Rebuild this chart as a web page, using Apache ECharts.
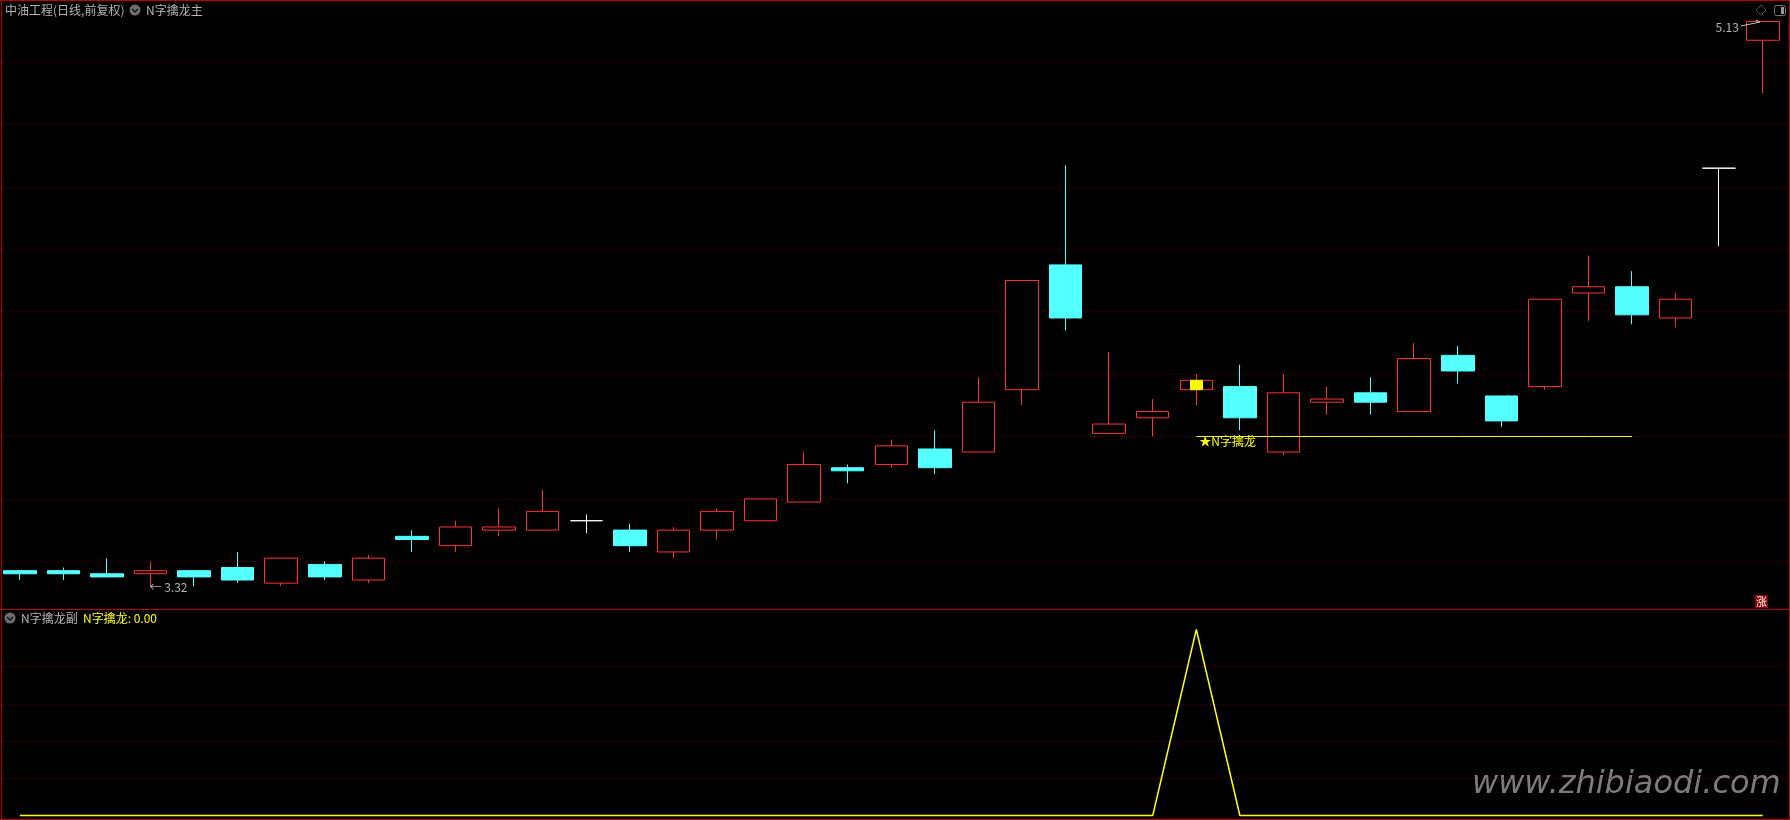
<!DOCTYPE html>
<html><head><meta charset="utf-8">
<style>html,body{margin:0;padding:0;background:#000}#c{width:1790px;height:820px}</style>
<script src="https://cdn.jsdelivr.net/npm/echarts@6/dist/echarts.min.js"></script>
</head><body><div id="c"></div>
<script>
const categories = Array.from({length:41},(_,i)=>String(i+1));
const opens  = [3.37,3.37,3.36,3.36,3.37,3.38,3.33,3.39,3.34,3.48,3.45,3.50,3.50,3.53,3.50,3.43,3.50,3.53,3.59,3.70,3.71,3.76,3.75,3.95,4.35,3.81,3.86,3.95,3.96,3.75,3.91,3.94,3.88,4.06,3.93,3.96,4.26,4.28,4.18,4.66,5.07];
const closes = [3.36,3.36,3.35,3.37,3.35,3.34,3.41,3.35,3.41,3.47,3.51,3.51,3.56,3.53,3.45,3.50,3.56,3.60,3.71,3.69,3.77,3.70,3.91,4.30,4.18,3.84,3.88,3.98,3.86,3.94,3.92,3.91,4.05,4.01,3.85,4.24,4.28,4.19,4.24,4.66,5.13];
const lows   = [3.34,3.34,3.35,3.32,3.32,3.33,3.32,3.34,3.33,3.43,3.43,3.48,3.50,3.49,3.43,3.41,3.47,3.53,3.59,3.65,3.70,3.68,3.75,3.90,4.14,3.81,3.80,3.90,3.82,3.74,3.87,3.87,3.88,3.97,3.83,3.95,4.17,4.16,4.15,4.41,4.90];
const highs  = [3.37,3.38,3.41,3.40,3.37,3.43,3.41,3.40,3.42,3.50,3.53,3.57,3.63,3.55,3.52,3.51,3.57,3.60,3.75,3.71,3.79,3.82,3.99,4.30,4.67,4.07,3.92,4.00,4.03,4.00,3.96,3.99,4.10,4.09,3.93,4.24,4.38,4.33,4.26,4.66,5.13];
const signal = [0,0,0,0,0,0,0,0,0,0,0,0,0,0,0,0,0,0,0,0,0,0,0,0,0,0,0,1,0,0,0,0,0,0,0,0,0,0,0,0,0];
const signalIndex = 27;
const supportPrice = 3.8;
const supportEnd = 37;
const lowIndex = 3, lowPrice = 3.32, highIndex = 40, highPrice = 5.13;

const RED='#ff3232', CYAN='#54ffff', YEL='#ffff00', GRAY='#b4b4b4', FRAME='#b80000', DOT='#8c0000';
const FONT='"Noto Sans CJK SC","Liberation Sans",sans-serif';

const candles = categories.map((_,i)=>[opens[i],closes[i],lows[i],highs[i]]);
const highlight = categories.map((_,i)=> i===signalIndex ? [opens[i],closes[i],opens[i],closes[i]] : '-');
const support = categories.map((_,i)=> i>=signalIndex && i<=supportEnd ? supportPrice : null);

function icon(cx,cy){
  return [
    {type:'circle',shape:{cx,cy,r:5.5},style:{fill:'#6e6e6e'},silent:true},
    {type:'polyline',shape:{points:[[cx-3,cy-1],[cx,cy+2],[cx+3,cy-1]]},style:{stroke:'#111',lineWidth:1.5,fill:null},silent:true}
  ];
}
function txt(x,y,t,fill,size){
  return {type:'text',x,y,style:{text:t,fill:fill||GRAY,font:(size||12)+'px '+FONT,textVerticalAlign:'middle'},silent:true};
}

const chart = echarts.init(document.getElementById('c'),null,{renderer:'canvas'});
const gridW = 42*43.575, gridL = -2;
chart.setOption({
  animation:false,
  backgroundColor:'#000',
  grid:[
    {left:gridL,top:-0.3,width:gridW,height:624,outerBoundsMode:'none'},
    {left:gridL,top:629.5,width:gridW,height:186,outerBoundsMode:'none'}
  ],
  xAxis:[0,1].map(g=>({type:'category',gridIndex:g,data:categories,max:41,boundaryGap:true,
    axisLine:{show:false},axisTick:{show:false},axisLabel:{show:false},splitLine:{show:false}})),
  yAxis:[
    {type:'value',gridIndex:0,min:3.2,max:5.2,interval:0.2,scale:true,
     axisLine:{show:false},axisTick:{show:false},axisLabel:{show:false},
     splitLine:{show:true,showMinLine:false,showMaxLine:false,lineStyle:{color:DOT,width:1,type:[1,3]}}},
    {type:'value',gridIndex:1,min:0,max:1,interval:0.2,
     axisLine:{show:false},axisTick:{show:false},axisLabel:{show:false},
     splitLine:{show:true,showMinLine:false,showMaxLine:false,lineStyle:{color:DOT,width:1,type:[1,3]}}}
  ],
  series:[
    {type:'candlestick',xAxisIndex:0,yAxisIndex:0,data:candles,barWidth:33,silent:true,clip:false,
     itemStyle:{color:'#000',color0:CYAN,borderColor:RED,borderColor0:CYAN,borderColorDoji:'#ffffff',borderWidth:1},
     markPoint:{silent:true,symbol:'circle',symbolSize:0,animation:false,
       data:[
        {coord:[lowIndex,lowPrice],label:{show:true,position:'right',distance:0,offset:[-1,1],formatter:'← '+lowPrice.toFixed(2),color:GRAY,fontSize:12,fontFamily:FONT}},
        {coord:[highIndex,highPrice],label:{show:true,position:'left',distance:0,offset:[-24,6],formatter:highPrice.toFixed(2),color:GRAY,fontSize:12,fontFamily:FONT}}
       ]}},
    {type:'candlestick',xAxisIndex:0,yAxisIndex:0,data:highlight,barWidth:13,silent:true,z:3,
     itemStyle:{color:YEL,color0:YEL,borderColor:YEL,borderColor0:YEL,borderWidth:1}},
    {type:'line',xAxisIndex:0,yAxisIndex:0,data:support,showSymbol:false,silent:true,z:4,
     lineStyle:{color:YEL,width:1},
     markPoint:{silent:true,symbol:'circle',symbolSize:0,
       data:[{coord:[signalIndex,supportPrice],label:{show:true,position:'right',distance:0,offset:[3,5],formatter:'★N字擒龙',color:YEL,fontSize:12,fontFamily:FONT}}]}},
    {type:'line',xAxisIndex:1,yAxisIndex:1,data:signal,showSymbol:false,silent:true,clip:false,z:4,
     lineStyle:{color:YEL,width:1.5}}
  ],
  graphic:{elements:[
    {type:'rect',shape:{x:0,y:0,width:1790,height:1},style:{fill:FRAME},silent:true,z:50},
    {type:'rect',shape:{x:1,y:0,width:1,height:820},style:{fill:FRAME},silent:true,z:50},
    {type:'rect',shape:{x:1789,y:0,width:1,height:820},style:{fill:FRAME},silent:true,z:50},
    {type:'rect',shape:{x:0,y:819,width:1790,height:1},style:{fill:FRAME},silent:true,z:50},
    {type:'rect',shape:{x:0,y:609,width:1790,height:1},style:{fill:FRAME},silent:true,z:50},
    txt(5,10.5,'中油工程(日线,前复权)'),
    ...icon(135,10),
    txt(146,10.5,'N字擒龙主'),
    ...icon(10,618),
    txt(21,618.5,'N字擒龙副'),
    txt(83,618.5,'N字擒龙: 0.00',YEL),
    {type:'polygon',shape:{points:[[1761,5],[1766,10],[1761,15],[1756,10]]},style:{fill:null,stroke:'#555',lineWidth:1},silent:true},
    {type:'rect',shape:{x:1774.5,y:5.5,width:11,height:10,r:2},style:{fill:null,stroke:'#777',lineWidth:1},silent:true},
    {type:'rect',shape:{x:1781,y:7,width:3,height:7},style:{fill:'#999'},silent:true},
    {type:'polyline',z:60,shape:{points:[[1741,26],[1760,22],[1756,20]]},style:{stroke:'#c8c8c8',lineWidth:1,fill:null},silent:true},
    {type:'rect',shape:{x:1755,y:595,width:13,height:13},style:{fill:'#8c0000'},silent:true},
    {type:'text',x:1761.5,y:601.5,style:{text:'涨',fill:'#fff',font:'11px '+FONT,textAlign:'center',textVerticalAlign:'middle'},silent:true},
    {type:'text',x:1472,y:785,style:{text:'www.zhibiaodi.com',fill:'#7c7c7c',font:'italic 32px "DejaVu Sans",sans-serif',
      textVerticalAlign:'middle',shadowColor:'#666',shadowBlur:6,shadowOffsetY:3},silent:true}
  ]}
});
</script></body></html>
